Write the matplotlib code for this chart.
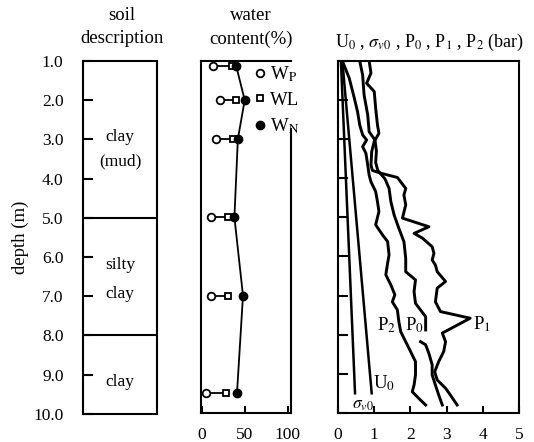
import numpy as np
import matplotlib.pyplot as plt

plt.rcParams['font.family'] = ['Liberation Serif', 'DejaVu Serif']
plt.rcParams['mathtext.fontset'] = 'stix'

# soil profile
depth_ticks = [1, 2, 3, 4, 5, 6, 7, 8, 9, 10]
depth_labels = ['1.0', '2.0', '3.0', '4.0', '5.0', '6.0', '7.0', '8.0', '9.0', '10.0']
layer_bounds = [5.0, 8.0]
layer_names = ['clay', '(mud)', 'silty', 'clay', 'clay']
layer_name_depths = [2.95, 3.55, 6.2, 6.95, 9.2]

# water content (%)
wc_depth = [1.12, 2.0, 3.0, 5.0, 7.0, 9.5]
w_p = [13, 21, 16, 11, 11, 5]
w_l = [35, 40, 36, 31, 31, 28]
w_n = [40, 50, 42, 38, 48, 41]

# pressuremeter results (bar)
u0_depth = [1.0, 9.5]
u0 = [0.12, 0.93]
sv0_depth = [1.0, 9.5]
sv0 = [0.08, 0.47]

p2_depth = [1.0, 1.44, 1.95, 2.30, 2.64, 2.89, 3.02, 3.19, 3.36, 3.66, 3.92, 4.09,
            4.34, 4.60, 4.85, 5.19, 5.45, 5.62, 5.96, 6.17, 6.47, 6.73, 6.98, 7.16,
            7.37, 7.67, 7.92, 8.09, 8.35, 8.69, 9.03, 9.29, 9.46, 9.63, 9.80]
p2 = [0.12, 0.31, 0.45, 0.54, 0.60, 0.68, 0.79, 0.68, 0.77, 0.82, 0.86, 0.91,
      1.04, 1.09, 1.13, 1.04, 1.23, 1.37, 1.41, 1.37, 1.32, 1.46, 1.57, 1.50,
      1.64, 1.68, 1.73, 1.82, 1.96, 2.14, 2.14, 2.10, 2.05, 2.23, 2.42]

p0_depth = [1.0, 1.36, 1.87, 2.38, 2.81, 3.02, 3.30, 3.60, 3.80, 4.02, 4.26, 4.60,
            4.94, 5.28, 5.62, 6.05, 6.39, 6.60, 6.90, 7.20, 7.37, 7.54, 7.88, 8.03,
            8.18, 8.26, 8.48, 8.77, 9.03, 9.29, 9.54, 9.80]
p0 = [0.60, 0.68, 0.72, 0.82, 0.86, 1.02, 1.06, 1.04, 1.10, 1.30, 1.41, 1.46,
      1.55, 1.68, 1.82, 1.87, 1.87, 2.14, 2.10, 2.14, 2.28, 2.42, 2.42, np.nan,
      2.28, 2.42, 2.51, 2.60, 2.60, 2.69, 2.78, 2.88]

p1_depth = [1.0, 1.31, 1.57, 1.78, 2.21, 2.64, 2.85, 3.06, 3.32, 3.66, 3.80, 3.87,
            3.98, 4.26, 4.43, 4.68, 5.02, 5.24, 5.41, 5.53, 5.75, 5.92, 6.09, 6.22,
            6.39, 6.64, 6.81, 7.16, 7.41, 7.58, 7.96, 8.18, 8.43, 8.69, 8.95, 9.16,
            9.37, 9.54, 9.80]
p1 = [0.86, 0.91, 0.79, 1.00, 1.04, 1.09, 1.13, 1.00, 0.93, 0.91, 0.95, 1.18,
      1.64, 1.87, 1.82, 1.87, 1.78, 2.51, 2.10, 2.33, 2.60, 2.65, 2.60, 2.69,
      2.74, 2.97, 2.74, 2.69, 2.83, 3.65, 2.88, 2.97, 2.92, 2.78, 2.67, 2.74,
      2.97, 3.10, 3.29]

fig = plt.figure(figsize=(5.34, 4.42), dpi=100)
ax_soil = fig.add_axes([0.1554, 0.064, 0.1386, 0.798])
ax_wc = fig.add_axes([0.3764, 0.066, 0.1685, 0.796])
ax_p = fig.add_axes([0.633, 0.066, 0.339, 0.796])

for ax in (ax_soil, ax_wc, ax_p):
    ax.set_ylim(10, 1)
    for sp in ax.spines.values():
        sp.set_linewidth(1.5)
    ax.tick_params(direction='in', length=7, width=1.5, labelsize=12.5, pad=6)

# soil description column
ax_soil.set_xlim(0, 1)
ax_soil.set_xticks([])
ax_soil.set_yticks(depth_ticks)
ax_soil.set_yticklabels(depth_labels)
ax_soil.tick_params(axis='y', pad=14)
for b in layer_bounds:
    ax_soil.axhline(b, color='k', lw=1.5)
for name, d in zip(layer_names, layer_name_depths):
    ax_soil.text(0.5, d, name, ha='center', va='center', fontsize=12.5)
ax_soil.set_ylabel('depth (m)', fontsize=13.5, labelpad=3)

# water content column
ax_wc.set_xlim(-1, 104)
ax_wc.set_xticks([0, 50, 100])
ax_wc.tick_params(axis='x', pad=10, length=5)
ax_wc.set_yticks([])
ax_wc.spines['right'].set_bounds(2.75, 10)
for d, a, b in zip(wc_depth, w_p, w_l):
    ax_wc.plot([a, b], [d, d], color='k', lw=1.3)
ax_wc.plot(w_n, wc_depth, color='k', lw=1.3)
ax_wc.plot(w_p, wc_depth, 'o', ms=5.5, mfc='white', mec='k', mew=1.3,
           label=r'W$_{\mathrm{P}}$')
ax_wc.plot(w_l, wc_depth, 's', ms=5, mfc='white', mec='k', mew=1.3,
           label='WL')
ax_wc.plot(w_n, wc_depth, 'o', ms=6, color='k', label=r'W$_{\mathrm{N}}$')
ax_wc.legend(loc='upper left', bbox_to_anchor=(0.57, 0.995), frameon=False,
             fontsize=13.5, handlelength=0.6, handletextpad=0.25, labelspacing=0.4,
             borderpad=0.1, borderaxespad=0)

# pressuremeter column
ax_p.set_xlim(0, 5)
ax_p.set_xticks([0, 1, 2, 3, 4, 5])
ax_p.tick_params(axis='x', pad=10, length=5)
ax_p.set_yticks(depth_ticks)
ax_p.set_yticklabels([])
ax_p.plot(sv0, sv0_depth, color='k', lw=1.8)
ax_p.plot(u0, u0_depth, color='k', lw=1.8)
ax_p.plot(p2, p2_depth, color='k', lw=2.1)
ax_p.plot(p0, p0_depth, color='k', lw=2.1)
ax_p.plot(p1, p1_depth, color='k', lw=2.1)
ax_p.text(1.33, 7.75, r'P$_2$', fontsize=13.5, ha='center', va='center')
ax_p.text(2.12, 7.75, r'P$_0$', fontsize=13.5, ha='center', va='center')
ax_p.text(3.97, 7.72, r'P$_1$', fontsize=13.5, ha='center', va='center')
ax_p.text(1.27, 9.25, r'U$_0$', fontsize=13.5, ha='center', va='center')
ax_p.text(0.68, 9.8, r'$\sigma_{v0}$', fontsize=12.5, ha='center', va='center')

# column headings
fig.text(0.228, 0.966, 'soil', ha='center', va='center', fontsize=13.5)
fig.text(0.228, 0.912, 'description', ha='center', va='center', fontsize=13.5)
fig.text(0.470, 0.966, 'water', ha='center', va='center', fontsize=13.5)
fig.text(0.470, 0.912, 'content(%)', ha='center', va='center', fontsize=13.5)
fig.text(0.805, 0.905,
         r'U$_0$ , $\sigma_{v0}$ , P$_0$ , P$_1$ , P$_2$ (bar)',
         ha='center', va='center', fontsize=13)

fig.savefig('out.png', dpi=100)
